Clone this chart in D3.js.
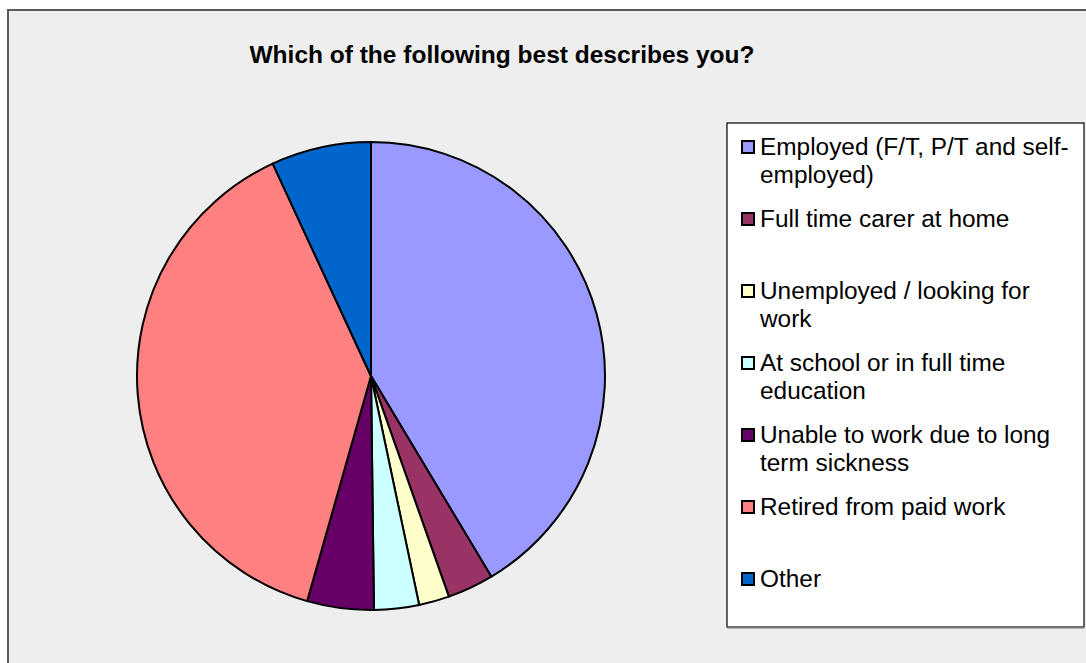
<!DOCTYPE html>
<html>
<head>
<meta charset="utf-8">
<script src="https://cdn.jsdelivr.net/npm/d3@7"></script>
<style>
  html, body { margin: 0; padding: 0; background: #ffffff; }
  svg { display: block; }
  text { font-family: "Liberation Sans", Arial, sans-serif; fill: #000; }
</style>
</head>
<body>
<svg id="chart" width="1086" height="663"></svg>
<script>
// Survey responses: share of respondents in each group (%)
const categories = [
  "Employed (F/T, P/T and self-employed)",
  "Full time carer at home",
  "Unemployed / looking for work",
  "At school or in full time education",
  "Unable to work due to long term sickness",
  "Retired from paid work",
  "Other"
];
const shares = [41.4, 3.2, 2.1, 3.1, 4.6, 38.7, 6.9];
const sliceColors = ["#9999FF", "#993366", "#FFFFCC", "#CCFFFF", "#660066", "#FF8080", "#0066CC"];
const title = "Which of the following best describes you?";

const svg = d3.select("#chart");
const W = 1086, H = 663;

// chart area background and frame
svg.append("rect")
  .attr("x", 8).attr("y", 10)
  .attr("width", W + 20).attr("height", H + 20)
  .attr("fill", "#eeeeee")
  .attr("stroke", "#5a5a5a").attr("stroke-width", 2);

// title
svg.append("text")
  .attr("x", 502).attr("y", 63)
  .attr("text-anchor", "middle")
  .style("font-size", "24.5px")
  .style("font-weight", "bold")
  .text(title);

// pie
const cx = 371, cy = 376, R = 234;
const data = categories.map((c, i) => ({ name: c, value: shares[i] }));
const pie = d3.pie().value(d => d.value).sort(null);
const arc = d3.arc().innerRadius(0).outerRadius(R);

const color = d3.scaleOrdinal().domain(categories).range(sliceColors);

svg.append("g")
  .attr("transform", `translate(${cx},${cy})`)
  .selectAll("path")
  .data(pie(data))
  .join("path")
  .attr("d", arc)
  .attr("fill", d => color(d.data.name))
  .attr("stroke", "#000")
  .attr("stroke-width", 2)
  .attr("stroke-linejoin", "round");

// legend box
const lx = 727, ly = 123, lw = 357, lh = 504;
svg.append("rect")
  .attr("x", lx).attr("y", ly).attr("width", lw).attr("height", lh)
  .attr("fill", "#ffffff").attr("stroke", "#000").attr("stroke-width", 1.2);
svg.append("line")
  .attr("x1", lx).attr("x2", lx + lw).attr("y1", ly + lh + 0.5).attr("y2", ly + lh + 0.5)
  .attr("stroke", "#777").attr("stroke-width", 2);

// wrap legend labels into lines that fit the box
const legendFont = "24.4px";
const maxTextWidth = 322;
const measurer = svg.append("text").style("font-size", legendFont).attr("visibility", "hidden");
function textWidth(s) { measurer.text(s); return measurer.node().getComputedTextLength(); }
function wrap(label) {
  // break points: spaces, and right after hyphens
  const tokens = label.match(/[^\s-]+-?|\s+/g);
  const lines = [];
  let cur = "";
  for (const t of tokens) {
    const trial = cur + t;
    if (cur.trim() !== "" && textWidth(trial.trimEnd()) > maxTextWidth) {
      lines.push(cur.trimEnd());
      cur = t.trimStart();
    } else {
      cur = trial;
    }
  }
  if (cur.trim() !== "") lines.push(cur.trimEnd());
  return lines;
}

const rowStep = 72, lineStep = 28;
const legend = svg.append("g");
categories.forEach((c, i) => {
  const baseY = 155 + i * rowStep;
  const g = legend.append("g");
  g.append("rect")
    .attr("x", 742).attr("y", baseY - 14)
    .attr("width", 12).attr("height", 12)
    .attr("fill", color(c))
    .attr("stroke", "#000").attr("stroke-width", 2);
  const t = g.append("text")
    .attr("x", 760).attr("y", baseY)
    .style("font-size", legendFont);
  wrap(c).forEach((line, k) => {
    t.append("tspan").attr("x", 760).attr("y", baseY + k * lineStep).text(line);
  });
});
measurer.remove();
</script>
</body>
</html>
